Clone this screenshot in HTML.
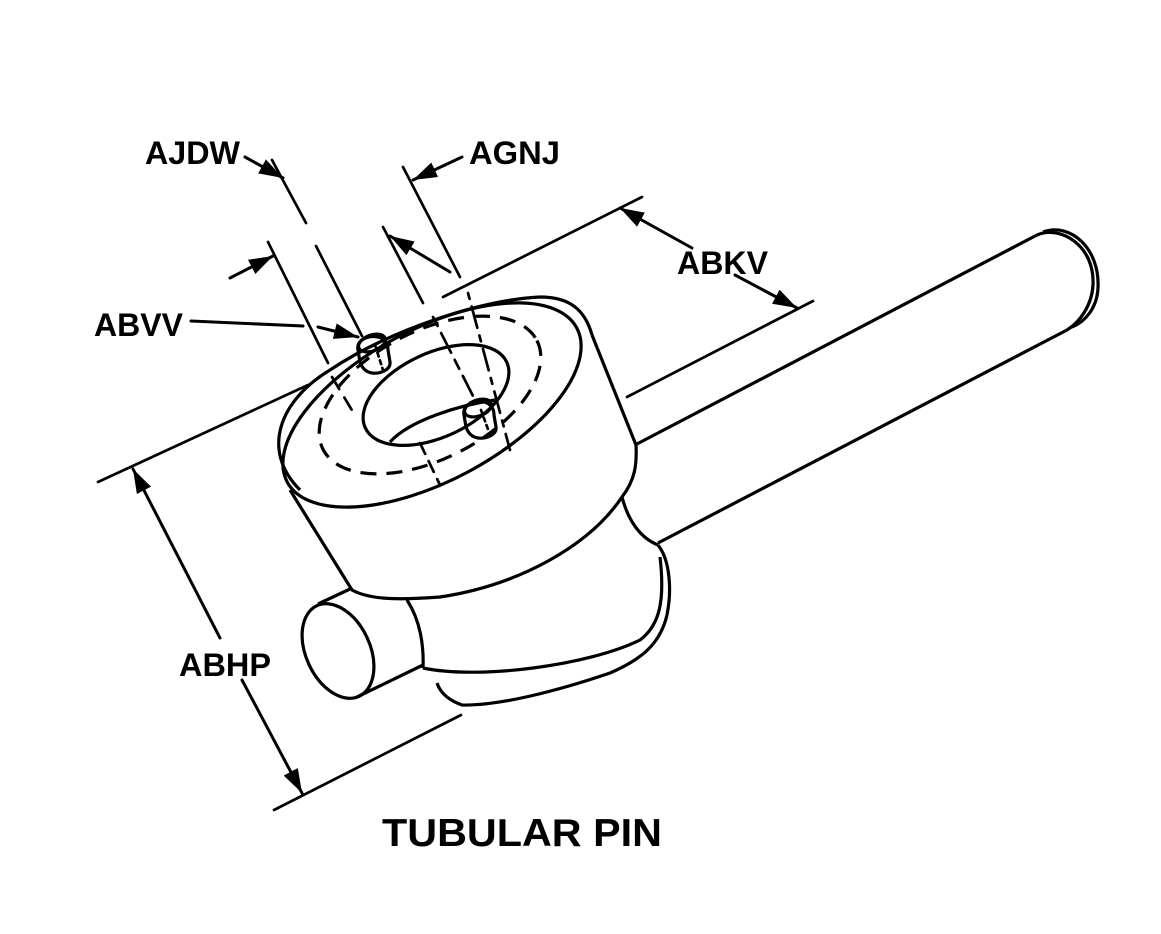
<!DOCTYPE html>
<html><head><meta charset="utf-8"><style>
html,body{margin:0;padding:0;background:#fff;}
svg{display:block;}
text{font-family:"Liberation Sans",Arial,sans-serif;font-weight:bold;fill:#000;}
</style></head><body>
<svg width="1161" height="934" viewBox="0 0 1161 934" xmlns="http://www.w3.org/2000/svg">
<defs>
<marker id="ar" markerUnits="userSpaceOnUse" markerWidth="26" markerHeight="16" refX="24" refY="8" orient="auto">
<path d="M0,0 L24,8 L0,16 Z" fill="#000"/>
</marker>
</defs>
<g fill="none" stroke="#000" stroke-width="3" stroke-linecap="round" stroke-linejoin="round">
<line x1="245" y1="157" x2="283" y2="178" marker-end="url(#ar)"/>
<line x1="462" y1="157" x2="413" y2="180" marker-end="url(#ar)"/>
<line x1="230" y1="278" x2="273" y2="256" marker-end="url(#ar)"/>
<line x1="191" y1="321" x2="303" y2="326"/>
<line x1="318" y1="327" x2="358" y2="337" marker-end="url(#ar)"/>
<line x1="450" y1="272" x2="390" y2="236" marker-end="url(#ar)"/>
<line x1="692" y1="248" x2="620" y2="208" marker-end="url(#ar)"/>
<line x1="735" y1="275" x2="797" y2="308" marker-end="url(#ar)"/>
<line x1="220" y1="638" x2="133" y2="469" marker-end="url(#ar)"/>
<line x1="242" y1="680" x2="302" y2="793" marker-end="url(#ar)"/>
</g>
<g fill="none" stroke="#000" stroke-width="2.7" stroke-linecap="round">
<line x1="272" y1="160" x2="306" y2="223"/>
<line x1="316" y1="246" x2="362" y2="336"/>
<line x1="268" y1="242" x2="328" y2="363"/>
<line x1="403" y1="167" x2="460" y2="277"/>
<line x1="383" y1="227" x2="423" y2="303"/>
<line x1="443" y1="297" x2="642" y2="197"/>
<line x1="627" y1="397" x2="813" y2="301"/>
<line x1="98" y1="482" x2="308" y2="385"/>
<line x1="274" y1="810" x2="461" y2="715"/>
<line x1="332" y1="377" x2="353" y2="412" stroke-dasharray="14 10"/>
<line x1="433" y1="317" x2="475" y2="400" stroke-dasharray="10 8 22 8"/>
<line x1="420" y1="443" x2="440" y2="485" stroke-dasharray="12 8"/>
<line x1="468" y1="293" x2="510" y2="450" stroke-dasharray="6 8 22 8"/>
<line x1="375" y1="345" x2="383" y2="370" stroke-dasharray="4 4"/>
<line x1="481" y1="410" x2="489" y2="432" stroke-dasharray="4 4"/>
</g>
<g fill="none" stroke="#000" stroke-width="3.2" stroke-linejoin="round">
<line x1="635" y1="445" x2="1037" y2="235"/>
<line x1="658" y1="543" x2="1067" y2="330"/>
<path d="M1037,235 C1060,225 1095,245 1093,285 C1092,305 1080,322 1067,330"/>
<path d="M1043,232 C1070,222 1100,248 1098,288 C1097,308 1085,322 1072,327"/>
<path d="M300,490 C260,450 280,400 330,370 C390,330 480,300 540,297 C570,297 585,310 592,335"/>
<ellipse cx="432" cy="405" rx="164" ry="76" transform="rotate(-28 432 405)"/>
<ellipse cx="436" cy="395" rx="78" ry="42" transform="rotate(-25 436 395)"/>
<path d="M390,442 C410,420 460,405 495,400"/>
<ellipse cx="430" cy="395" rx="120" ry="64" transform="rotate(-27 430 395)" stroke-dasharray="16 10"/>
<path d="M358,350 C356,340 368,335 378,337 C386,339 388,345 388,350 L390,362 C391,370 380,374 372,373 C366,372 362,368 360,362 Z"/>
<ellipse cx="372" cy="343" rx="14" ry="8" transform="rotate(-20 372 343)"/>
<path d="M464,415 C462,405 474,400 484,402 C492,404 494,410 494,415 L496,427 C497,435 486,439 478,438 C472,437 468,433 466,427 Z"/>
<ellipse cx="478" cy="408" rx="14" ry="8" transform="rotate(-20 478 408)"/>
<path d="M290,490 L352,590 C370,600 400,600 440,597 C520,585 590,545 622,497 C635,480 637,465 636,445 L592,335"/>
<path d="M622,497 C628,520 640,538 658,545"/>
<path d="M658,545 C670,560 672,590 667,615 C660,645 640,660 610,673 C560,690 500,706 462,705 C448,700 440,692 437,683"/>
<path d="M423,668 C480,680 590,665 640,640 C660,625 665,600 660,557"/>
<path d="M407,600 C420,620 424,645 423,668"/>
<ellipse cx="338" cy="651" rx="32" ry="50" transform="rotate(-25 338 651)"/>
<line x1="318" y1="604" x2="350" y2="589"/>
<line x1="357" y1="697" x2="423" y2="665"/>
</g>
<text x="145" y="164" font-size="32" textLength="95" lengthAdjust="spacingAndGlyphs">AJDW</text>
<text x="469" y="164" font-size="32" textLength="91" lengthAdjust="spacingAndGlyphs">AGNJ</text>
<text x="677" y="274" font-size="32" textLength="91" lengthAdjust="spacingAndGlyphs">ABKV</text>
<text x="94" y="336" font-size="32" textLength="89" lengthAdjust="spacingAndGlyphs">ABVV</text>
<text x="179" y="676" font-size="32" textLength="92" lengthAdjust="spacingAndGlyphs">ABHP</text>
<text x="382" y="846" font-size="39" textLength="280" lengthAdjust="spacingAndGlyphs">TUBULAR PIN</text>
</svg>
</body></html>
